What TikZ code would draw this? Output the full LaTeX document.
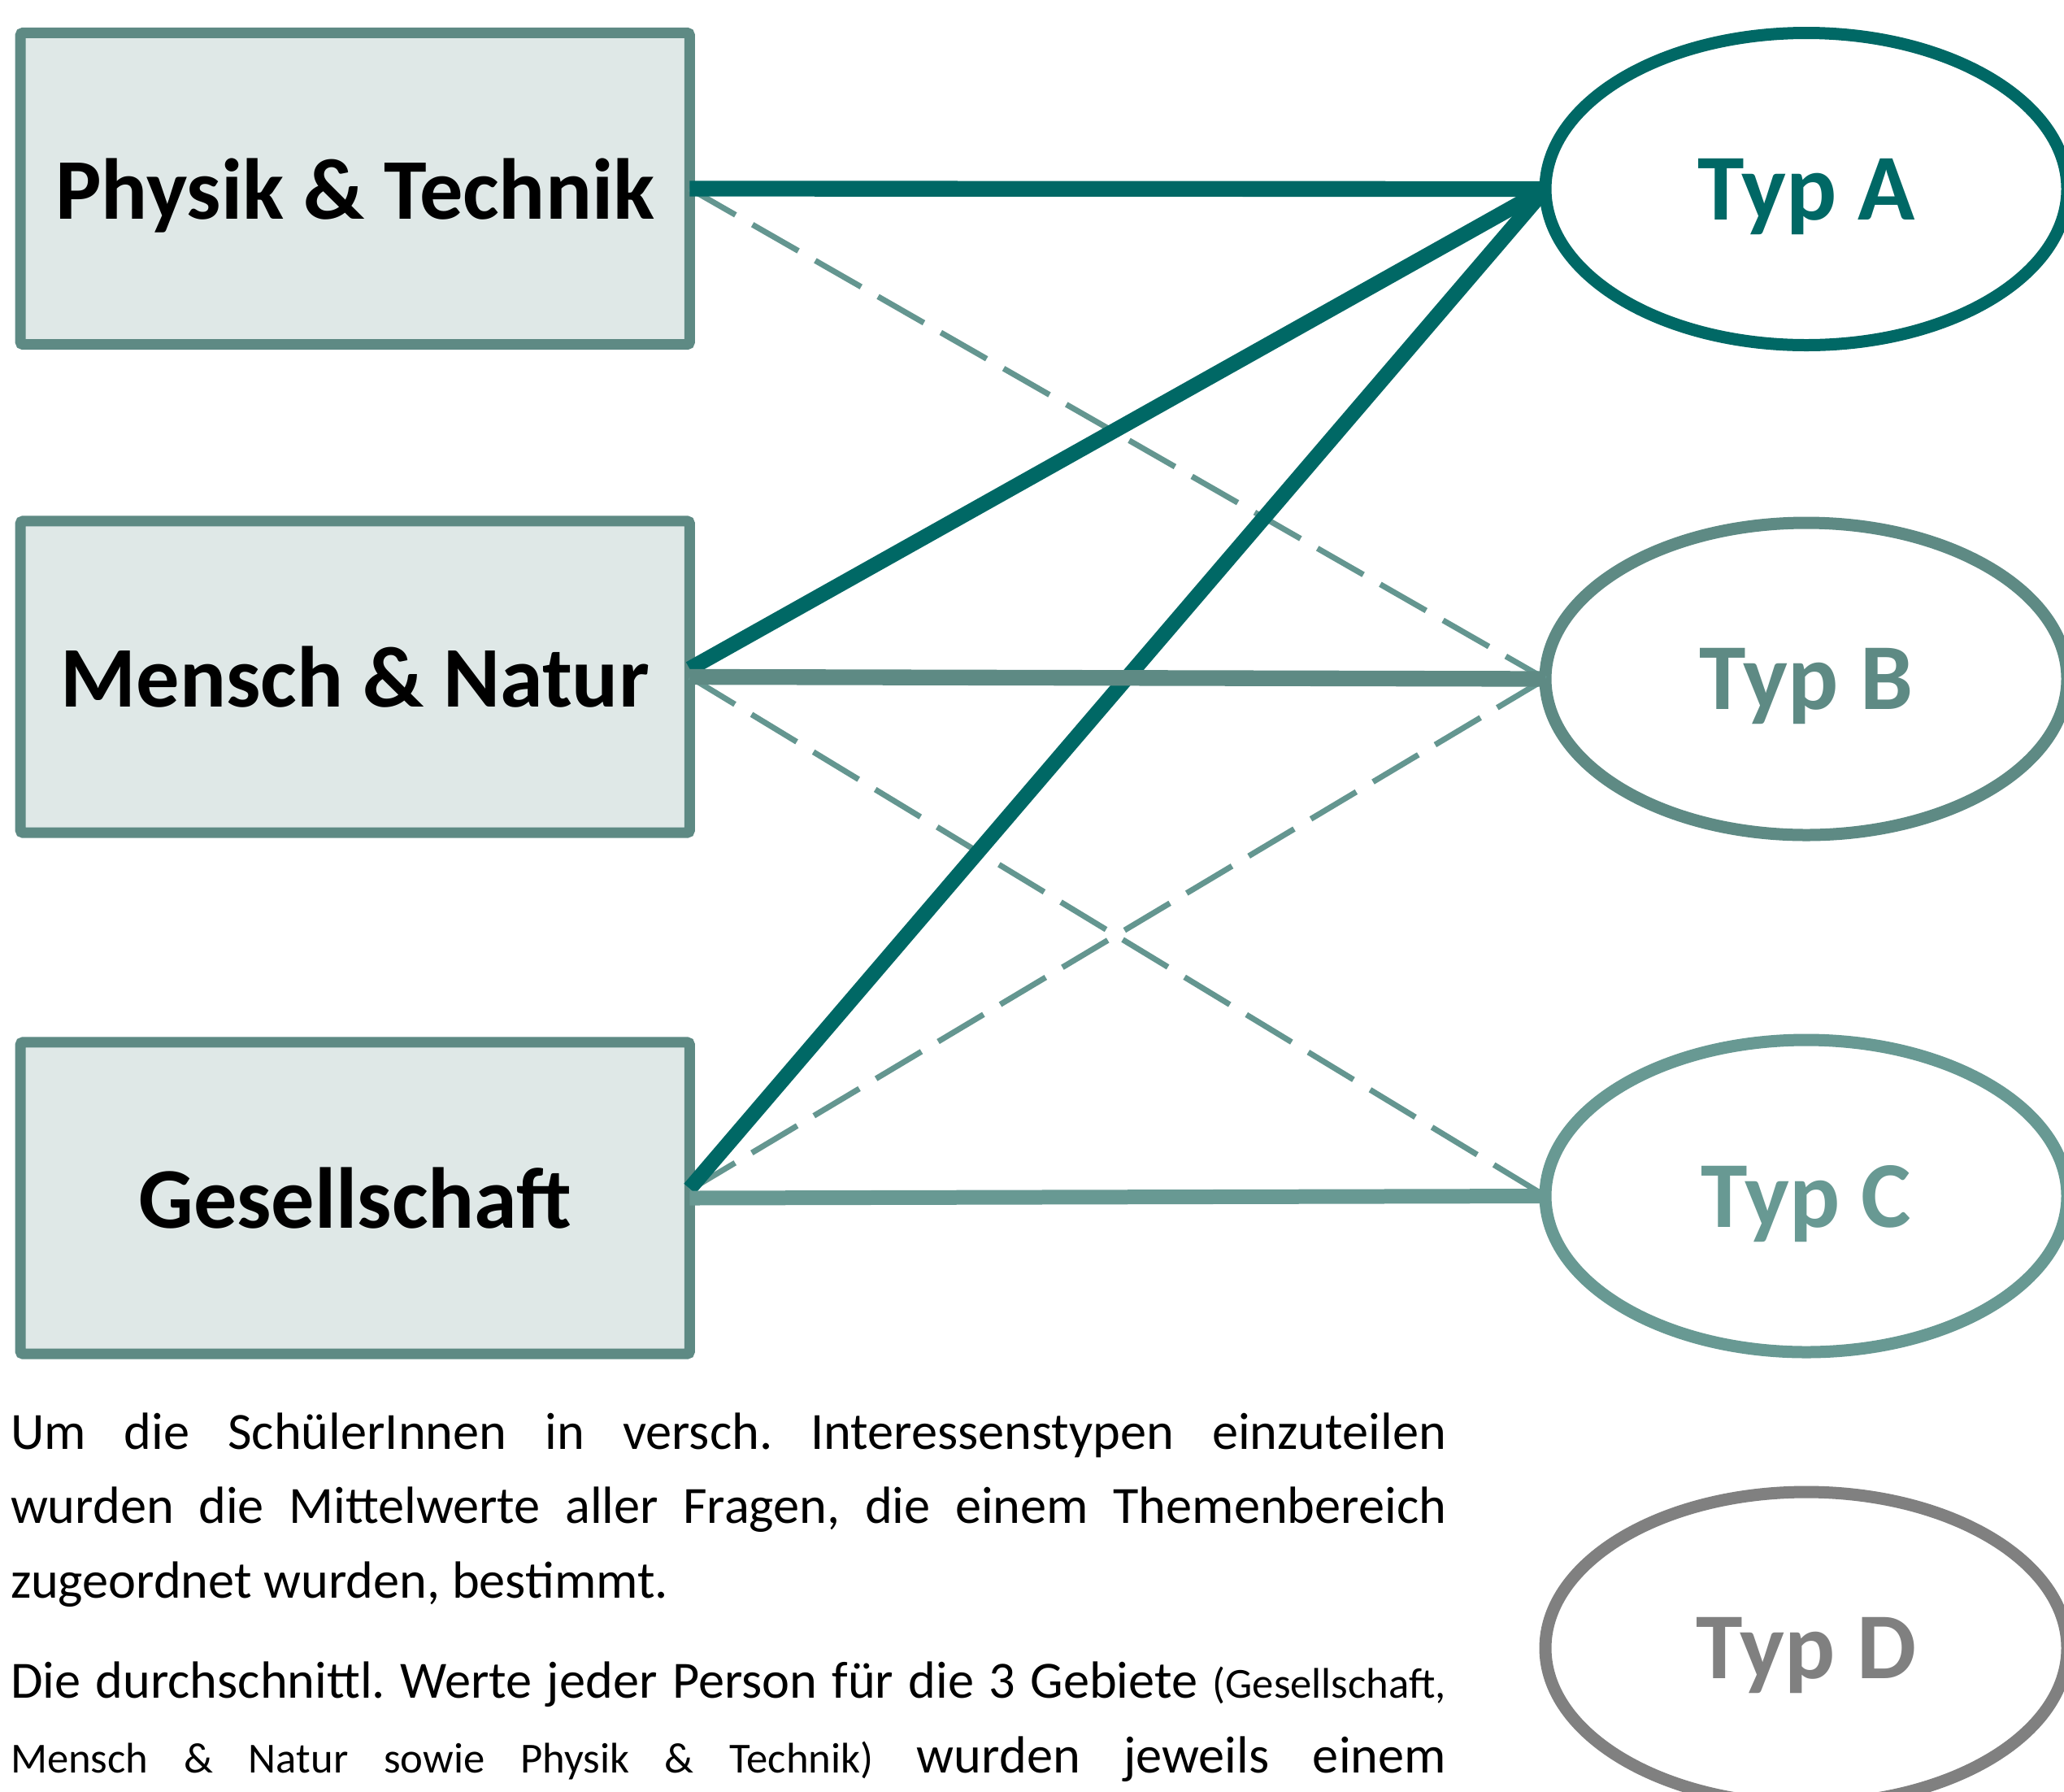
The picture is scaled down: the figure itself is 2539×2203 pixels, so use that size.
\documentclass[tikz,border=0pt]{standalone}
\usepackage{fontspec}
\setmainfont{Carlito}
\usetikzlibrary{shapes.geometric}
\definecolor{tealdark}{RGB}{0,104,101}
\definecolor{tealmid}{RGB}{94,138,132}
\definecolor{tealdash}{RGB}{100,150,144}
\definecolor{teallight}{RGB}{104,153,147}
\definecolor{graytyp}{RGB}{128,128,128}
\definecolor{boxfill}{RGB}{223,232,231}
\begin{document}
\frenchspacing
\begin{tikzpicture}[x=0.3pt,y=-0.3pt,
  boxnode/.style={draw=tealmid, fill=boxfill, line width=3.9pt, minimum width=247pt, minimum height=115pt,
    inner sep=0pt, outer sep=0pt, rounded corners=1pt, text depth=0pt,
    font=\fontsize{31.9}{36}\selectfont\bfseries},
  typnode/.style={ellipse, fill=white, line width=4.5pt, minimum width=192.6pt, minimum height=115.2pt,
    inner sep=0pt, outer sep=0pt, text depth=0pt, font=\fontsize{34.8}{40}\selectfont\bfseries},
  strong/.style={line width=5.8pt},
  weak/.style={tealdash, line width=2.1pt, dash pattern=on 19.5pt off 7.2pt},
  bodyline/.style={anchor=base west, inner sep=0pt, outer sep=0pt, font=\fontsize{19.3}{27.5}\selectfont}
]
\useasboundingbox (0,0) rectangle (2539,2203);
\clip (0,0) rectangle (2539,2203);

% left boxes
\node[boxnode] (pt) at (436.75,232) {Physik \& Technik};
\node[boxnode] (mn) at (436.75,832.5) {Mensch \& Natur};
\node[boxnode] (ge) at (436.75,1473.5) {Gesellschaft};

% right ellipses
\node[typnode, draw=tealdark, text=tealdark] (ta) at (2222,232.5) {Typ A};
\node[typnode, draw=tealmid, text=tealmid] (tb) at (2222,835) {Typ B};
\node[typnode, draw=teallight, text=teallight] (tc) at (2222,1471) {Typ C};
\node[typnode, draw=graytyp, text=graytyp] (td) at (2222,2027) {Typ D};

% dashed connectors
\draw[weak] (pt.east) -- (tb.west);
\draw[weak] (mn.east) -- (tc.west);
\draw[weak] ([yshift=3pt]ge.east) -- (tb.west);

% solid connectors
\draw[strong, tealdark] (pt.east) -- (ta.west);
\draw[strong, tealdark, line width=5.6pt] ([yshift=3pt]mn.east) -- (ta.west);
\draw[strong, tealdark, line width=5.6pt] ([yshift=3.5pt]ge.east) -- (ta.west);
\draw[strong, tealmid] (mn.east) -- (tb.west);
\draw[strong, teallight, line width=5.4pt] (ge.east) -- (tc.west);

% body text
\node[bodyline] (p1a) at (13,1782) {\makebox[529.8pt][s]{Um die SchülerInnen in versch. Interessenstypen einzuteilen}};
\node[bodyline] (p1b) at (13,1873) {\makebox[529.8pt][s]{wurden die Mittelwerte aller Fragen, die einem Themenbereich}};
\node[bodyline] (p1c) at (13,1965) {zugeordnet wurden, bestimmt.};
\node[bodyline] (p2a) at (13,2088) {\makebox[529.8pt][s]{Die durchschnittl. Werte jeder Person für die 3 Gebiete {\fontsize{15.8}{20}\selectfont(Gesellschaft,}}};
\node[bodyline] (p2b) at (13,2180) {\makebox[529.8pt][s]{{\fontsize{15.8}{20}\selectfont Mensch \& Natur sowie Physik \& Technik)} wurden jeweils einem}};
\end{tikzpicture}
\end{document}
